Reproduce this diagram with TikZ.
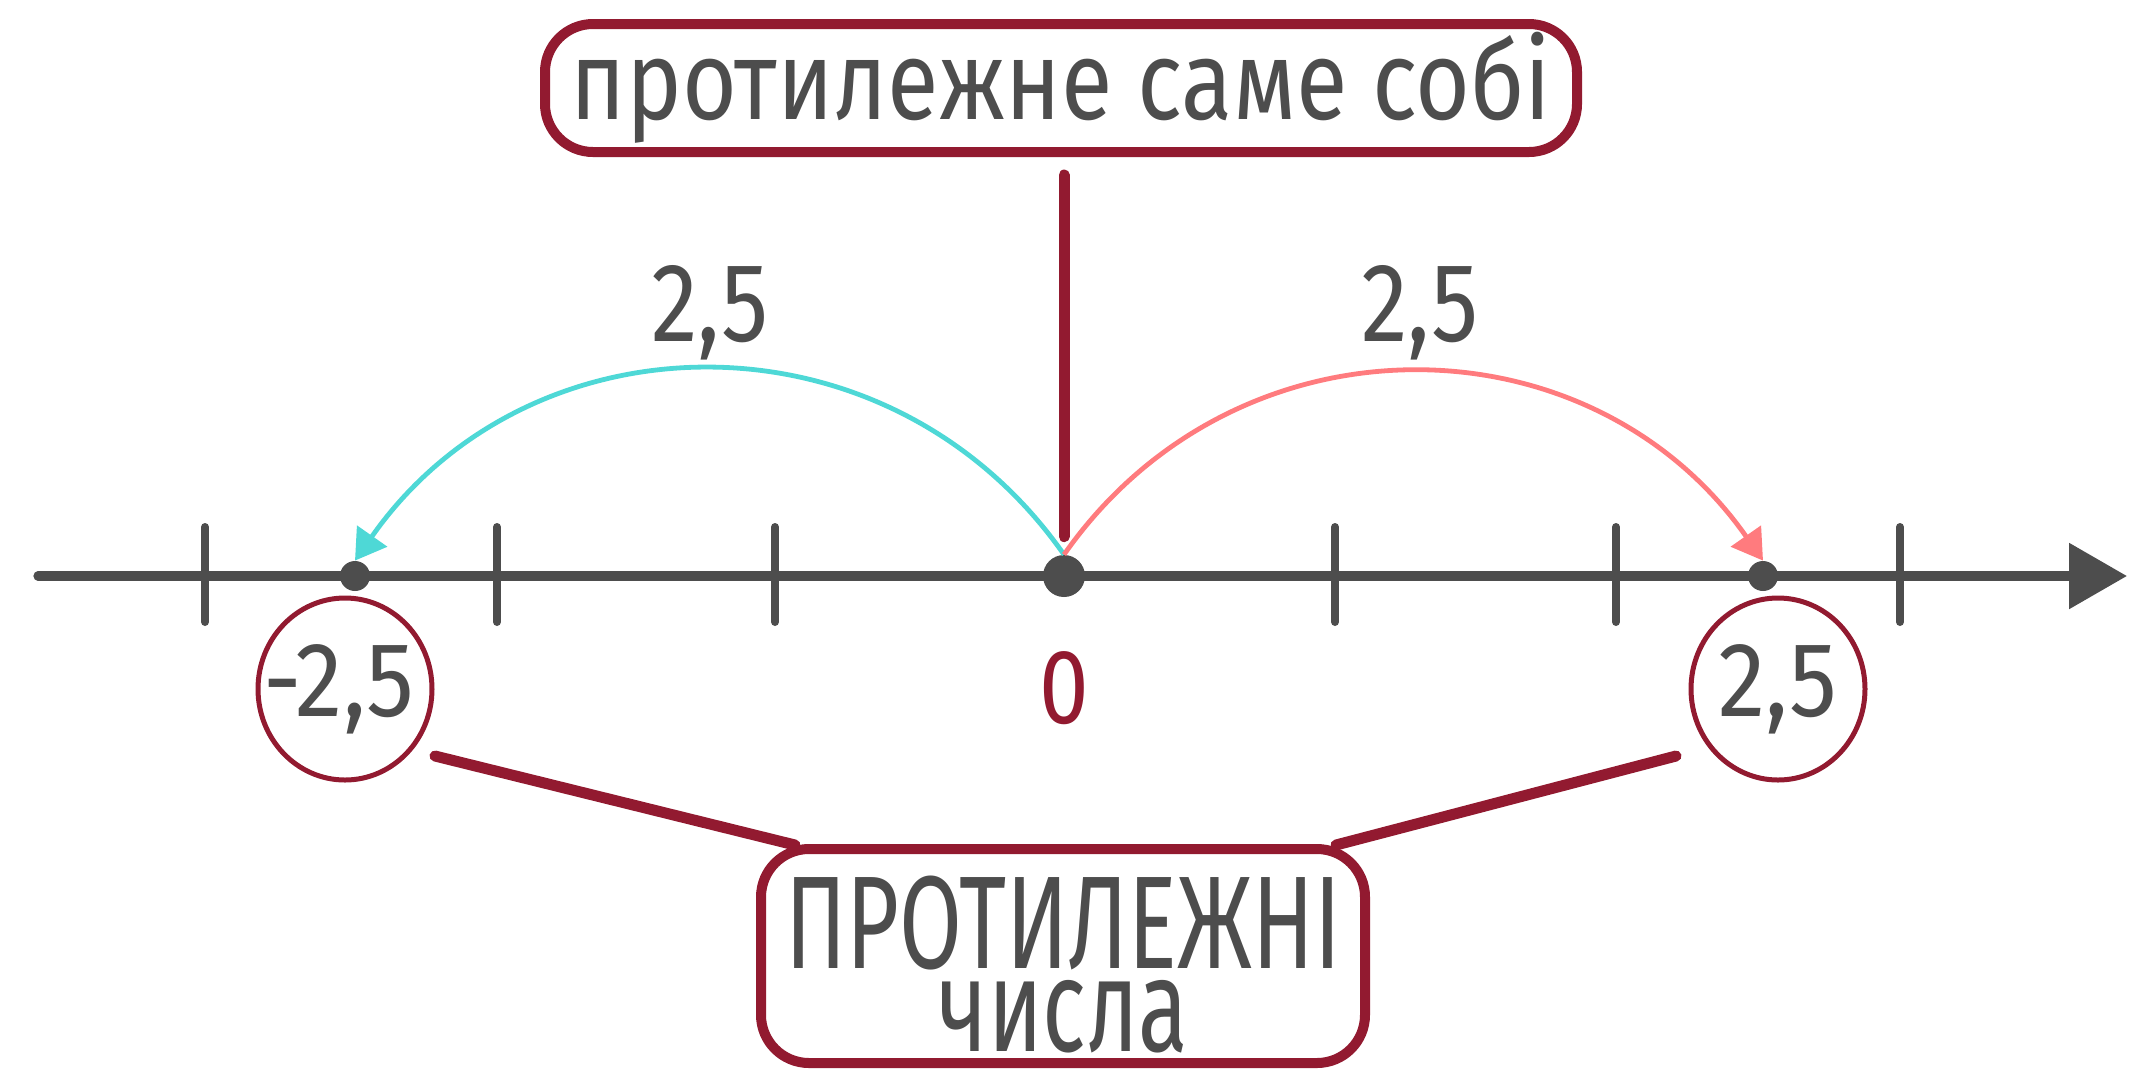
\documentclass[tikz,border=0pt]{standalone}
\usepackage{fontspec}
\setmainfont[FakeStretch=0.84]{Fira Sans}
\newfontfamily\topfont[FakeStretch=0.84]{Fira Sans}
\newfontfamily\botfont[FakeStretch=0.69]{Fira Sans}
\newfontfamily\numfont[FakeStretch=0.9]{Fira Sans}
\usetikzlibrary{arrows.meta,calc,shapes.geometric}
\definecolor{axgray}{HTML}{4D4D4D}
\definecolor{wine}{HTML}{921A30}
\definecolor{cyanarc}{HTML}{4ED8D6}
\definecolor{pinkarc}{HTML}{FF7B7E}
\tikzset{
  axis/.style={draw=axgray,line width=4.6pt,line cap=round},
  tick/.style={draw=axgray,line width=4pt,line cap=round},
  dotpt/.style={circle,fill=axgray,inner sep=0pt,minimum size=15pt},
  zerodot/.style={circle,fill=axgray,inner sep=0pt,minimum size=21pt},
  labelbox/.style={draw=wine,line width=5pt,rounded corners=24pt,fill=white,text=axgray,inner sep=0pt},
  numcirc/.style={draw=wine,line width=2.5pt,ellipse,text=axgray,inner sep=0pt,minimum width=87pt,minimum height=91pt,font=\numfont\fontsize{53}{53}\selectfont},
  conn/.style={draw=wine,line width=5.5pt,line cap=round},
  arclab/.style={text=axgray,font=\fontsize{56}{56}\selectfont,inner sep=0pt},
  jump/.style={line width=2.4pt,-{Triangle[length=15pt,width=18pt]}},
}
\begin{document}
\begin{tikzpicture}[x=0.5pt,y=-0.5pt]
\useasboundingbox (0,0) rectangle (2131,1073);
% axis
\coordinate (axL) at (38,576);
\coordinate (axR) at (2127,576);
\draw[axis,-{Triangle[length=29pt,width=32pt]}] (axL) -- (axR);
\foreach \t in {205,497,775,1335,1616,1900}{
  \draw[tick] (\t,527) -- (\t,622);
}
% points
\node[dotpt] (pm) at (355,576) {};
\node[dotpt] (pp) at (1763,576) {};
\node[zerodot] (z) at (1064,576) {};
% arcs
\draw[jump,draw=cyanarc] (z.north) to[out=125,in=55,looseness=1.1] (pm.north);
\draw[jump,draw=pinkarc] (z.north) to[out=55,in=125,looseness=1.1] (pp.north);
\node[arclab] (l1) at (710,313) {2,5};
\node[arclab] (l2) at (1420,313) {2,5};
% top label
\node[labelbox,minimum width=516pt,minimum height=64pt,font=\topfont\fontsize{56}{56}\selectfont] (top) at (1061,88) {протилежне саме собі};
\draw[conn] ([yshift=-9pt]z |- top.south) -- ([yshift=9pt]z.north);
% zero label
\node[text=wine,font=\fontsize{53}{53}\selectfont,inner sep=0pt] (zl) at (1064,688) {0};
% circles
\node[numcirc] (cm) at (345,689) {\makebox[0pt]{\hspace*{-6pt}-2,5}};
\node[numcirc] (cp) at (1778,689) {\makebox[0pt]{2,5}};
% bottom label
\node[labelbox,minimum width=302pt,minimum height=107pt] (bot) at (1063,956) {};
\node[anchor=base,text=axgray,inner sep=0pt,font=\botfont\fontsize{66}{66}\selectfont] (bt1) at (1063,968) {ПРОТИЛЕЖНІ};
\node[anchor=base,text=axgray,inner sep=0pt,font=\botfont\fontsize{66}{66}\selectfont] (bt2) at (1063,1051) {числа};
\coordinate (cmE) at (435,756);
\coordinate (botL) at (795,845);
\coordinate (cpE) at (1676,756);
\coordinate (botR) at (1336,845);
\draw[conn] (cmE) -- (botL);
\draw[conn] (cpE) -- (botR);
\end{tikzpicture}
\end{document}
